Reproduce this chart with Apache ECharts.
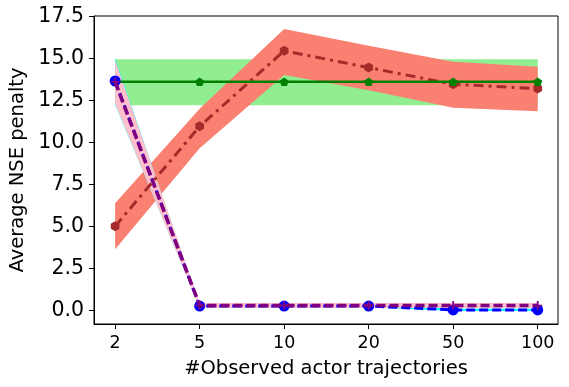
<!DOCTYPE html>
<html><head><meta charset="utf-8">
<script src="https://cdn.jsdelivr.net/npm/echarts@6/dist/echarts.min.js"></script>
<style>html,body{margin:0;padding:0;background:#fff}#c{width:569px;height:387px}</style>
</head><body><div id="c"></div>
<script>
const categories = ['2', '5', '10', '20', '50', '100'];
const yTicks = [0, 2.5, 5, 7.5, 10, 12.5, 15, 17.5];

const greenMean = [13.6, 13.6, 13.6, 13.6, 13.6, 13.6];
const greenLow  = [12.2, 12.2, 12.2, 12.2, 12.2, 12.2];
const greenHigh = [14.95, 14.95, 14.95, 14.95, 14.95, 14.95];

const redMean = [5.0, 10.95, 15.45, 14.45, 13.45, 13.2];
const redLow  = [3.63, 9.65, 14.0, 13.1, 12.06, 11.85];
const redHigh = [6.37, 12.0, 16.75, 15.75, 14.8, 14.5];

const blueMean = [13.65, 0.25, 0.25, 0.25, 0.02, 0.02];
const blueLow  = [12.25, 0.18, 0.18, 0.18, -0.05, -0.05];
const blueHigh = [15.0, 0.32, 0.32, 0.32, 0.09, 0.09];

const purpleMean = [13.6, 0.28, 0.28, 0.28, 0.28, 0.28];
const purpleLow  = [12.3, 0.13, 0.13, 0.13, 0.13, 0.13];
const purpleHigh = [14.9, 0.43, 0.43, 0.43, 0.43, 0.43];

const FONT = 'DejaVu Sans';
const pentagon = 'path://M0,-1 L0.951,-0.309 L0.588,0.809 L-0.588,0.809 L-0.951,-0.309 Z';
const hexagon = 'path://M0,-1 L0.866,-0.5 L0.866,0.5 L0,1 L-0.866,0.5 L-0.866,-0.5 Z';
const plus = 'path://M4,0 L6,0 L6,4 L10,4 L10,6 L6,6 L6,10 L4,10 L4,6 L0,6 L0,4 L4,4 Z';

function band(low, high, color, z) {
  return {
    type: 'custom', z: z, silent: true,
    data: low.map((l, i) => [i, l, high[i]]),
    encode: { x: 0, y: [1, 2] },
    renderItem: function (params, api) {
      if (params.dataIndex !== 0) return;
      const up = high.map((h, i) => api.coord([i, h]));
      const dn = low.map((l, i) => api.coord([i, l])).reverse();
      return { type: 'polygon', shape: { points: up.concat(dn) }, style: { fill: color } };
    }
  };
}
function line(vals, color, width, type, symbol, size, z) {
  return {
    type: 'line', z: z, silent: true,
    data: vals.map((v, i) => [i, v]),
    symbol: symbol, symbolSize: size, symbolKeepAspect: true, showSymbol: true,
    lineStyle: { color: color, width: width, type: type },
    itemStyle: { color: color, borderWidth: 0 }
  };
}

const chart = echarts.init(document.getElementById('c'), null, { renderer: 'canvas' });
chart.setOption({
  animation: false,
  backgroundColor: '#fff',
  grid: { left: 94, right: 11, top: 16, bottom: 63, show: true, borderColor: '#000', borderWidth: 1, containLabel: false, outerBoundsMode: 'none' },
  xAxis: {
    type: 'value', min: -0.25, max: 5.24,
    name: '#Observed actor trajectories', nameLocation: 'middle', nameGap: 35,
    nameTextStyle: { fontFamily: FONT, fontSize: 19.5, color: '#000' },
    axisLine: { show: true, onZero: false, lineStyle: { color: '#000', width: 1 } },
    axisTick: { show: true, length: 5, inside: false, customValues: [0, 1, 2, 3, 4, 5], lineStyle: { color: '#000' } },
    axisLabel: { customValues: [0, 1, 2, 3, 4, 5], formatter: v => categories[Math.round(v)], fontFamily: FONT, fontSize: 17.5, color: '#000', margin: 10 },
    splitLine: { show: false }
  },
  yAxis: {
    type: 'value', min: -0.82, max: 17.52,
    name: 'Average NSE penalty', nameLocation: 'middle', nameGap: 65, nameRotate: 90,
    nameTextStyle: { fontFamily: FONT, fontSize: 19.5, color: '#000' },
    axisLine: { show: true, onZero: false, lineStyle: { color: '#000', width: 1 } },
    axisTick: { show: true, length: 5, inside: false, customValues: yTicks, lineStyle: { color: '#000' } },
    axisLabel: { customValues: yTicks, formatter: v => v.toFixed(1), fontFamily: FONT, fontSize: 20.5, color: '#000', margin: 10 },
    splitLine: { show: false }
  },
  series: [
    band(greenLow, greenHigh, '#90EE90', 1),
    band(redLow, redHigh, '#FA8072', 1),
    band(blueLow, blueHigh, '#00FFFF', 1),
    band(purpleLow, purpleHigh, '#FFC0CB', 1),
    line(redMean, '#A52A2A', 3, [10, 5, 3, 5], hexagon, 10, 3),
    line(greenMean, '#008000', 2.5, 'solid', pentagon, 9, 4),
    line(blueMean, '#0000FF', 3, [9, 4], 'circle', 11, 5),
    line(purpleMean, '#800080', 3.5, [9, 4], plus, 9, 6)
  ]
});
</script></body></html>
